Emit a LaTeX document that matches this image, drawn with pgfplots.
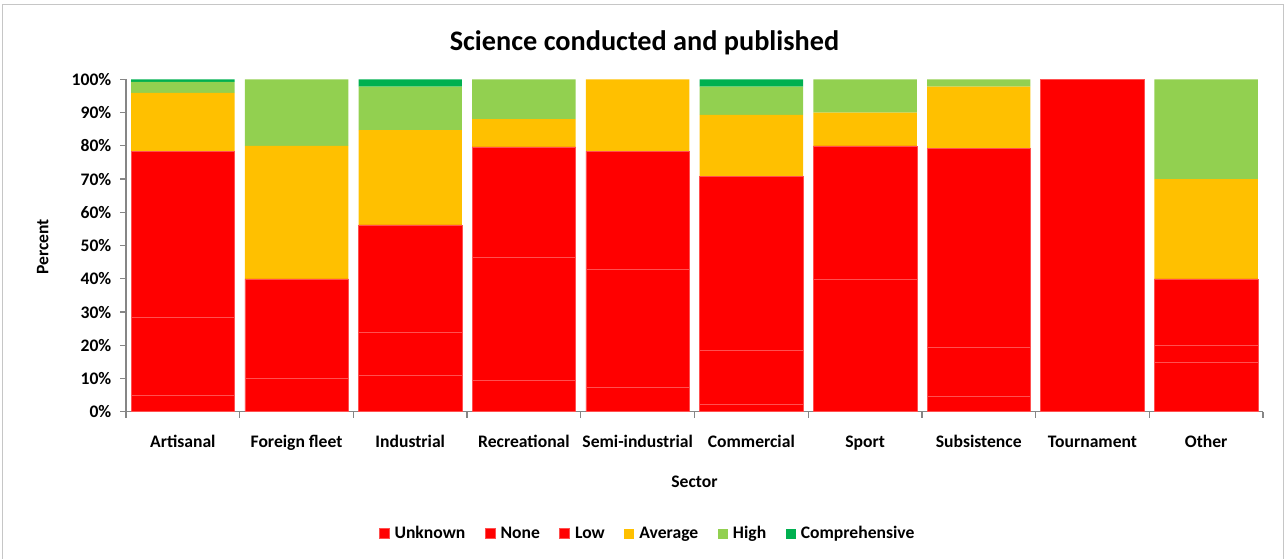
\documentclass[border=0pt]{standalone}
\usepackage{pgfplots}
\pgfplotsset{compat=1.18}
\usepackage{pgfplotstable}
\usepackage{fontspec}
\setmainfont{Carlito}
\definecolor{cred}{HTML}{FF0000}
\definecolor{cavg}{HTML}{FFC000}
\definecolor{chigh}{HTML}{92D050}
\definecolor{ccomp}{HTML}{00B050}
\definecolor{axgray}{HTML}{868686}
\definecolor{redline}{HTML}{FF5050}

\pgfplotstableread{
x unknown none low average high comp
0 5.0 23.4 50.0 17.5 3.3 0.8
1 10.0 30.0 0.0 40.0 20.0 0.0
2 10.9 13.0 32.3 28.5 13.1 2.2
3 9.4 37.0 33.3 8.3 12.0 0.0
4 7.4 35.4 35.5 21.7 0.0 0.0
5 2.3 16.2 52.2 18.6 8.5 2.2
6 0.0 40.0 40.0 10.0 10.0 0.0
7 4.7 14.8 59.7 18.6 2.2 0.0
8 0.0 0.0 100.0 0.0 0.0 0.0
9 14.8 5.2 20.0 30.0 30.0 0.0
}\data

\begin{document}
\begin{tikzpicture}[x=1pt,y=1pt]
\useasboundingbox (0,0) rectangle (963.75,418.5);
\draw[gray!45, line width=0.75pt] (1.5,-10) rectangle (962.8,414.75);
\begin{axis}[
  at={(94.5pt,109.7pt)}, anchor=south west,
  scale only axis, width=852.75pt, height=249.3pt,
  ybar stacked, bar width=0.91,
  xmin=-0.5, xmax=9.5, ymin=0, ymax=100,
  axis lines*=left,
  axis line style={axgray, line width=1pt},
  xtick={-0.5,0.5,...,9.5},
  xticklabels={Artisanal,Foreign fleet,Industrial,Recreational,Semi-industrial,Commercial,Sport,Subsistence,Tournament,Other,{}},
  xticklabel style={xshift=42.64pt, yshift=-9.5pt, text height=9.6pt, text depth=3pt, font=\fontsize{13.2}{15}\selectfont\bfseries},
  ytick={0,10,...,100},
  yticklabel={\pgfmathprintnumber{\tick}\%},
  yticklabel style={xshift=-3pt, font=\fontsize{13.2}{15}\selectfont\bfseries},
  /pgf/number format/assume math mode=true,
  tick style={axgray, line width=1pt},
  tick align=outside, major tick length=4.5pt,
  title={Science conducted and published},
  title style={at={(axis description cs:0.456,1.063)}, anchor=base, font=\fontsize{21.2}{25}\selectfont\bfseries},
  xlabel={Sector},
  xlabel style={at={(axis description cs:0.5,-0.2265)}, anchor=base, font=\fontsize{13.2}{15}\selectfont\bfseries},
  ylabel={Percent},
  ylabel style={at={(axis description cs:-0.0683,0.496)}, anchor=base, rotate=0, font=\fontsize{13.2}{15}\selectfont\bfseries},
  legend columns=6,
  legend style={at={(axis description cs:0.459,-0.367)}, anchor=center, draw=none,
    font=\fontsize{13.2}{15}\selectfont\bfseries,
    /tikz/every odd column/.append style={column sep=2pt},
    /tikz/every even column/.append style={column sep=12.5pt}},
  legend image code/.code={\fill[#1] (0pt,-3.75pt) rectangle (7.5pt,3.75pt);},
]
\addplot[fill=cred, draw=redline, line width=0.4pt] table[x=x,y=unknown]{\data};
\addplot[fill=cred, draw=redline, line width=0.4pt] table[x=x,y=none]{\data};
\addplot[fill=cred, draw=redline, line width=0.4pt] table[x=x,y=low]{\data};
\addplot[fill=cavg, draw=none] table[x=x,y=average]{\data};
\addplot[fill=chigh, draw=none] table[x=x,y=high]{\data};
\addplot[fill=ccomp, draw=none] table[x=x,y=comp]{\data};
\legend{Unknown,None,Low,Average,High,Comprehensive}
\end{axis}
\end{tikzpicture}
\end{document}
